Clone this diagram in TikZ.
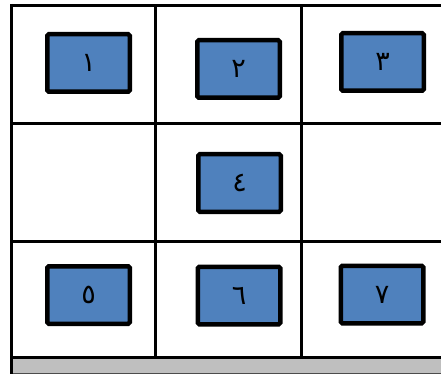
\documentclass[tikz,border=0pt]{standalone}
\usepackage{fontspec}
\newfontfamily\arabicfont[Script=Arabic]{DejaVu Sans}
\usepackage{tikz}
\usetikzlibrary{positioning, calc}

\begin{document}
\begin{tikzpicture}[
    x=1pt, y=-1pt,
    grid_line/.style={line width=3pt, black},
    cell_box/.style={rectangle, draw=black, line width=4.5pt, rounded corners=1.5pt,
                     fill={rgb,255:red,79;green,129;blue,189},
                     minimum width=82.5pt, minimum height=57.5pt,
                     font=\arabicfont\fontsize{27}{27}\selectfont, inner sep=0pt}
    ]
    \useasboundingbox (0,0) rectangle (441,374);

    % Bottom bar
    \fill[gray!50] (12,358) rectangle (441,373);
    \draw[line width=0.8pt, black!70] (12,373.4) -- (441,373.4);

    % Grid lines
    \draw[grid_line] (11.5,4) -- (11.5,374);
    \draw[grid_line] (10,5.5) -- (441,5.5);
    \draw[grid_line] (10,123.5) -- (441,123.5);
    \draw[grid_line] (10,241) -- (441,241);
    \draw[grid_line] (10,357.5) -- (441,357.5);
    \draw[grid_line] (155.5,5) -- (155.5,358);
    \draw[grid_line] (301.5,5) -- (301.5,358);

    % Boxes
    \node[cell_box] (b1) at (88.5,63) {١};
    \node[cell_box] (b2) at (238.5,69) {٢};
    \node[cell_box] (b3) at (382.5,62) {٣};
    \node[cell_box] (b4) at (239.5,183) {٤};
    \node[cell_box] (b5) at (88.5,295) {٥};
    \node[cell_box] (b6) at (239,295.5) {٦};
    \node[cell_box] (b7) at (382,294.5) {٧};
\end{tikzpicture}
\end{document}
